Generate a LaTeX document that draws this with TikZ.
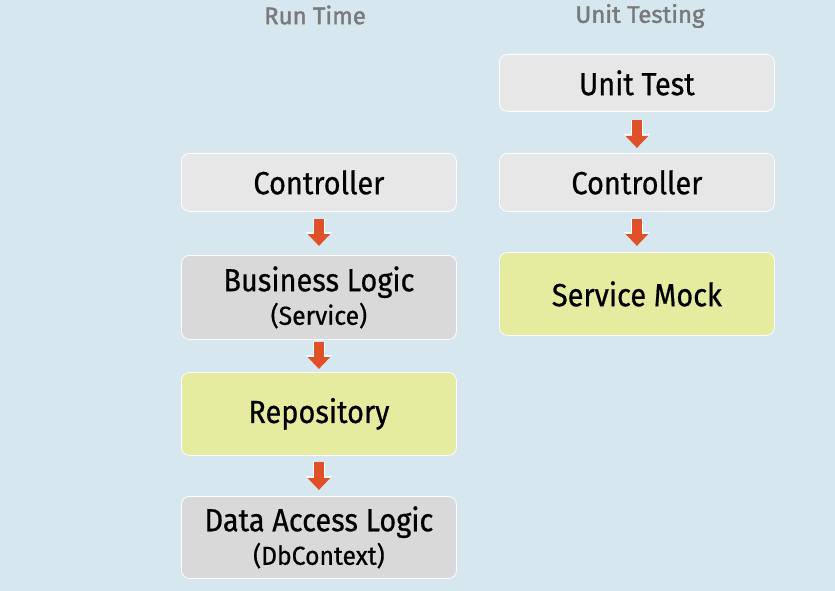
\documentclass[tikz,border=0pt]{standalone}
\usepackage{fontspec}
\setmainfont{Fira Sans}
\newfontfamily\mainbox{Fira Sans}[FakeStretch=0.905, FakeBold=0.6]
\newfontfamily\subbox{Fira Sans}[FakeStretch=0.95, FakeBold=0.6]
\newfontfamily\titlefont{Fira Sans}[FakeBold=1.6]
\usetikzlibrary{arrows.meta,calc}
\definecolor{bg}{HTML}{D7E7F0}
\definecolor{boxlight}{HTML}{E7E7E7}
\definecolor{boxdark}{HTML}{D9D9D9}
\definecolor{boxgreen}{HTML}{E5EB9F}
\definecolor{arrowc}{HTML}{E0512A}
\definecolor{titlec}{HTML}{7A7A7A}
\tikzset{
  box/.style={draw=white, line width=0.8pt, rounded corners=8pt, minimum width=275pt, anchor=north west, align=center, inner sep=0pt, font=\mainbox\fontsize{32}{34}\selectfont},
  lightbox/.style={box, fill=boxlight},
  darkbox/.style={box, fill=boxdark},
  greenbox/.style={box, fill=boxgreen},
  fat/.style={draw=arrowc, line width=10pt, -{Triangle[width=22pt,length=12pt]},
    preaction={draw=white, line width=12pt, -{Triangle[width=25pt,length=14pt]}}},
  title/.style={text=titlec, font=\titlefont\fontsize{24}{27}\selectfont}
}
\newcommand{\sub}[1]{{\subbox\fontsize{26}{30}\selectfont #1}}
\begin{document}
\begin{tikzpicture}[x=1pt,y=-1pt]
\fill[bg] (0,0) rectangle (835,591);
\useasboundingbox (0,0) rectangle (835,591);
\node[title] (t1) at (315,15) {Run Time};
\node[title] (t2) at (640,16) {Unit Testing};
% left column
\node[lightbox, minimum height=58pt] (c1) at (181,153) {Controller};
\node[darkbox, minimum height=84pt] (b1) at (181,255) {Business Logic\\[-0.5pt]\sub{(Service)}};
\node[greenbox, minimum height=83pt] (r1) at (181,372) {Repository};
\node[darkbox, minimum height=82pt] (d1) at (181,496) {Data Access Logic\\[-0.5pt]\sub{(DbContext)}};
% right column
\node[lightbox, minimum height=57pt] (u2) at (499,54) {Unit Test};
\node[lightbox, minimum height=58pt] (c2) at (499,153) {Controller};
\node[greenbox, minimum height=83pt] (s2) at (499,252) {Service Mock};
% arrows
\draw[fat, shorten <=7pt, shorten >=9pt] (c1) -- (b1);
\draw[fat, shorten <=2pt, shorten >=3pt] (b1) -- (r1);
\draw[fat, shorten <=6pt, shorten >=6pt] (r1) -- (d1);
\draw[fat, shorten <=8pt, shorten >=5pt] (u2) -- (c2);
\draw[fat, shorten <=7pt, shorten >=6pt] (c2) -- (s2);
\end{tikzpicture}
\end{document}
